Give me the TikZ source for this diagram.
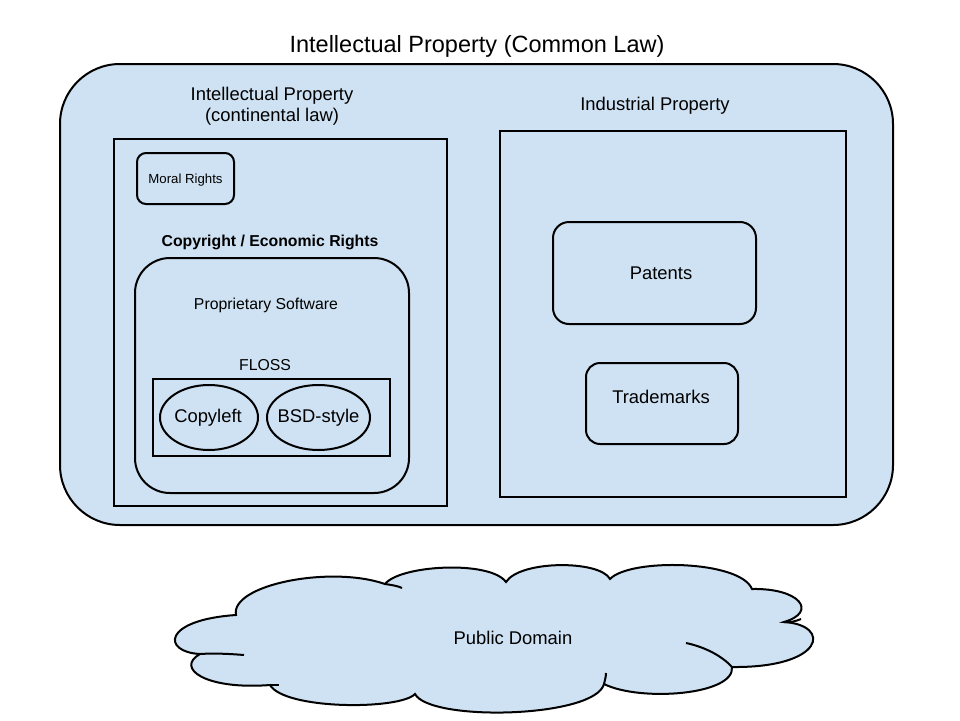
\documentclass[tikz,border=0pt]{standalone}
\usepackage{fontspec}
\setmainfont{Liberation Sans}
\usetikzlibrary{shapes.geometric}
\definecolor{ipblue}{HTML}{CFE2F3}
\begin{document}
\begin{tikzpicture}[x=1pt,y=-1pt,
  every node/.style={inner sep=0pt,outer sep=0pt},
  box/.style={draw=black,line width=2pt,fill=ipblue,rectangle},
  rbox/.style={box,rounded corners=#1},
  oval/.style={draw=black,line width=2pt,fill=ipblue,ellipse},
  txt/.style={font=\fontsize{18.4}{20.5}\selectfont,align=center},
  smalltxt/.style={font=\fontsize{15.8}{18}\selectfont},
  cloudline/.style={draw=black,line width=2pt}]
\useasboundingbox (0,0) rectangle (960,720);
\fill[white] (0,0) rectangle (960,720);

\node[txt,font=\fontsize{23.5}{27}\selectfont] (title) at (477,46) {Intellectual Property (Common Law)};
\node[rbox=60pt,minimum width=833pt,minimum height=461pt] (outer) at (476.5,294.5) {};

\node[txt] (contl) at (272,106) {Intellectual Property\\(continental law)};
\node[box,minimum width=333pt,minimum height=367pt] (left) at (280.5,322.5) {};
\node[rbox=9pt,minimum width=97pt,minimum height=51pt] (moral) at (185.5,178.5) {};
\node[font=\fontsize{13.2}{15}\selectfont] (moraltxt) at (185.5,180) {Moral Rights};
\node[smalltxt,font=\fontsize{15.8}{18}\selectfont\bfseries] (copyr) at (270,242) {Copyright / Economic Rights};
\node[rbox=35pt,minimum width=274pt,minimum height=235pt] (prop) at (272,375.5) {};
\node[smalltxt] (proptxt) at (266,305) {Proprietary Software};
\node[smalltxt] (flosstxt) at (265,365) {FLOSS};
\node[box,minimum width=237pt,minimum height=77pt] (floss) at (271.5,417.5) {};
\node[oval,minimum width=98pt,minimum height=65pt] (copyleft) at (209,417.5) {};
\node[txt] (copylefttxt) at (208,417.5) {Copyleft};
\node[oval,minimum width=103pt,minimum height=65pt] (bsd) at (318.5,417.5) {};
\node[txt] (bsdtxt) at (318.5,417.5) {BSD-style};

\node[txt] (indtxt) at (655,106) {Industrial Property};
\node[box,minimum width=346pt,minimum height=366pt] (right) at (673,314) {};
\node[rbox=16pt,minimum width=203pt,minimum height=102pt] (patents) at (654.5,273) {};
\node[txt] (patentstxt) at (661,273) {Patents};
\node[rbox=14pt,minimum width=152pt,minimum height=81pt] (trade) at (662,403.5) {};
\node[txt] (tradetxt) at (661,397) {Trademarks};

% cloud
\path[cloudline,fill=ipblue]
  (236,615) .. controls (230,585) and (330,565) .. (385,584)
  .. controls (400,565) and (490,560) .. (506,582)
  .. controls (520,560) and (600,560) .. (610,579)
  .. controls (630,558) and (740,560) .. (752,589)
  .. controls (800,588) and (818,612) .. (784,622)
  .. controls (832,625) and (825,668) .. (732,667)
  .. controls (735,695) and (640,702) .. (604,684)
  .. controls (595,718) and (430,722) .. (415,694)
  .. controls (400,710) and (285,710) .. (270,685)
  .. controls (205,690) and (175,668) .. (200,654)
  .. controls (162,652) and (162,620) .. (236,615) -- cycle;
\draw[cloudline] (385,584) .. controls (392,585) and (398,586) .. (402,588);
\draw[cloudline] (686,643) .. controls (705,647) and (722,656) .. (732,667);
\draw[cloudline] (200,654) .. controls (215,653) and (232,654) .. (244,655);
\draw[cloudline] (784,622) .. controls (790,623) and (796,621) .. (801,619);
\draw[cloudline] (270,685) -- (279,685);
\draw[cloudline] (604,684) .. controls (605,680) and (606,676) .. (606,673);
\node[txt] (pd) at (513,638) {Public Domain};
\end{tikzpicture}
\end{document}
